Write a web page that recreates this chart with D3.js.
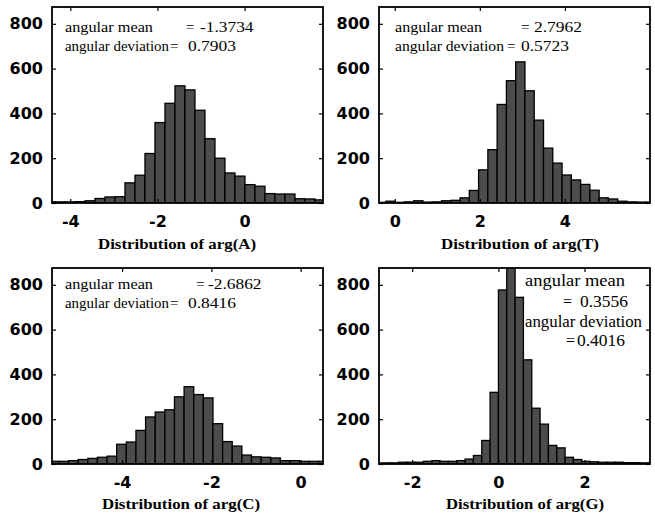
<!DOCTYPE html>
<html>
<head>
<meta charset="utf-8">
<script src="https://cdn.jsdelivr.net/npm/d3@7"></script>
<style>
  body { margin: 0; background: #fff; }
  svg { display: block; }
</style>
</head>
<body>
<svg id="chart" width="655" height="516"></svg>
<script>
// Histogram counts of the phase angle of each nucleotide signal
const nucleotides = ["A", "T", "C", "G"];

const countsA = [5, 5, 5, 6, 10, 20, 27, 28, 90, 124, 221, 359, 445, 523, 505, 414, 287, 200, 134, 120, 82, 75, 42, 40, 40, 19, 18, 14];
const binStartA = -4.581, binWidthA = 0.2295;

const countsT = [3, 8, 3, 5, 10, 4, 5, 10, 12, 23, 56, 148, 238, 440, 546, 630, 501, 370, 245, 178, 125, 103, 83, 57, 23, 18, 8, 5, 4, 4];
const binStartT = -0.427, binWidthT = 0.218;

const countsC = [12, 12, 15, 20, 25, 30, 35, 88, 98, 150, 210, 232, 242, 300, 345, 310, 295, 180, 100, 80, 40, 32, 30, 27, 15, 15, 12, 12, 12, 10];
const binStartC = -5.631, binWidthC = 0.2157;

const countsG = [4, 5, 5, 8, 8, 8, 12, 15, 12, 12, 15, 22, 38, 105, 320, 777, 890, 744, 465, 249, 178, 83, 72, 30, 20, 12, 10, 8, 8, 8, 6, 6, 5, 5];
const binStartG = -2.899, binWidthG = 0.1934;

// Axis limits and ticks
const xLimA = [-4.42, 1.80], xTicksA = [-4, -2, 0];
const xLimT = [-0.37, 6.00], xTicksT = [0, 2, 4];
const xLimC = [-5.57, 0.50], xTicksC = [-4, -2, 0];
const xLimG = [-2.77, 3.52], xTicksG = [-2, 0, 2];
const yMax = 875;
const yTicks = [0, 200, 400, 600, 800];

// Circular statistics printed in each panel
const meanA = -1.3734, devA = 0.7903;
const meanT = 2.7962, devT = 0.5723;
const meanC = -2.6862, devC = 0.8416;
const meanG = 0.3556, devG = 0.4016;

const fmt = v => v.toFixed(4);
// width used for a printed number: wide digits, narrow point and sign
const numWidth = s => Array.from(s).reduce((w, ch) => w + (ch === "." ? 4 : ch === "-" ? 5.5 : 8.8), 0);

// Panel layout
const plotW = 271, plotH = 196;
const panels = [
  { key: "A", left: 52, top: 7, counts: countsA, start: binStartA, width: binWidthA, xLim: xLimA, xTicks: xTicksA,
    titleX: 177, titleY: 249, fs: 15,
    words: [ { t: "angular mean", x: 65, y: 32, w: 88 }, { t: "angular deviation", x: 65, y: 51, w: 104 } ],
    eqs: [ { x: 186, y: 32 }, { x: 170, y: 51 } ],
    nums: [ { v: meanA, x: 200, y: 32 }, { v: devA, x: 188, y: 51 } ] },
  { key: "T", left: 379, top: 7, counts: countsT, start: binStartT, width: binWidthT, xLim: xLimT, xTicks: xTicksT,
    titleX: 520, titleY: 249, fs: 15,
    words: [ { t: "angular mean", x: 395, y: 32, w: 87 }, { t: "angular deviation", x: 395, y: 51, w: 109 } ],
    eqs: [ { x: 521, y: 32 }, { x: 507, y: 51 } ],
    nums: [ { v: meanT, x: 534, y: 32 }, { v: devT, x: 521, y: 51 } ] },
  { key: "C", left: 52, top: 268, counts: countsC, start: binStartC, width: binWidthC, xLim: xLimC, xTicks: xTicksC,
    titleX: 181, titleY: 509, fs: 15,
    words: [ { t: "angular mean", x: 65, y: 289, w: 88 }, { t: "angular deviation", x: 65, y: 308, w: 104 } ],
    eqs: [ { x: 196, y: 289 }, { x: 170, y: 308 } ],
    nums: [ { v: meanC, x: 208, y: 289 }, { v: devC, x: 188, y: 308 } ] },
  { key: "G", left: 379, top: 268, counts: countsG, start: binStartG, width: binWidthG, xLim: xLimG, xTicks: xTicksG,
    titleX: 525, titleY: 509, fs: 16,
    words: [ { t: "angular mean", x: 525, y: 286, w: 100 }, { t: "angular deviation", x: 525, y: 327, w: 117 } ],
    eqs: [ { x: 563, y: 307 }, { x: 566, y: 346 } ],
    nums: [ { v: meanG, x: 580, y: 307 }, { v: devG, x: 577, y: 346 } ] }
];

const svg = d3.select("#chart");
svg.append("rect").attr("width", 655).attr("height", 516).attr("fill", "#fff");

const tickFont = "'DejaVu Sans', sans-serif";
const serifFont = "'Liberation Serif', 'Times New Roman', serif";

panels.forEach((p, idx) => {
  const x = d3.scaleLinear().domain(p.xLim).range([p.left, p.left + plotW]);
  const y = d3.scaleLinear().domain([0, yMax]).range([p.top + plotH, p.top]);

  const clipId = "clip-" + p.key;
  svg.append("clipPath").attr("id", clipId)
    .append("rect").attr("x", p.left).attr("y", p.top).attr("width", plotW).attr("height", plotH);

  const bins = p.counts.map((c, i) => ({ x0: p.start + i * p.width, x1: p.start + (i + 1) * p.width, n: c }));

  svg.append("g").attr("clip-path", `url(#${clipId})`)
    .selectAll("rect").data(bins).join("rect")
    .attr("x", d => x(d.x0))
    .attr("width", d => x(d.x1) - x(d.x0))
    .attr("y", d => y(d.n))
    .attr("height", d => y(0) - y(d.n))
    .attr("fill", "#4c4c4c")
    .attr("stroke", "#000")
    .attr("stroke-width", 1.3);

  // Bottom axis with labels, inward ticks
  const gx = svg.append("g").attr("transform", `translate(0,${p.top + plotH})`)
    .call(d3.axisBottom(x).tickValues(p.xTicks).tickSizeInner(-4).tickSizeOuter(0).tickPadding(13)
      .tickFormat(d => d3.format("d")(d).replace("−", "-")));
  gx.select(".domain").remove();
  gx.selectAll("line").attr("stroke", "#000").attr("stroke-width", 1.2);
  gx.selectAll("text").attr("font-family", tickFont).attr("font-weight", "bold")
    .attr("font-size", 16).attr("fill", "#000");

  // Top axis, ticks only
  const gxt = svg.append("g").attr("transform", `translate(0,${p.top})`)
    .call(d3.axisTop(x).tickValues(p.xTicks).tickSizeInner(-4).tickSizeOuter(0).tickFormat(""));
  gxt.select(".domain").remove();
  gxt.selectAll("line").attr("stroke", "#000").attr("stroke-width", 1.2);

  // Left axis with labels
  const gy = svg.append("g").attr("transform", `translate(${p.left},0)`)
    .call(d3.axisLeft(y).tickValues(yTicks).tickSizeInner(-4).tickSizeOuter(0).tickPadding(9)
      .tickFormat(d3.format("d")));
  gy.select(".domain").remove();
  gy.selectAll("line").attr("stroke", "#000").attr("stroke-width", 1.2);
  gy.selectAll("text").attr("font-family", tickFont).attr("font-weight", "bold")
    .attr("font-size", 16).attr("fill", "#000");

  // Right axis, ticks only
  const gyr = svg.append("g").attr("transform", `translate(${p.left + plotW},0)`)
    .call(d3.axisRight(y).tickValues(yTicks).tickSizeInner(-4).tickSizeOuter(0).tickFormat(""));
  gyr.select(".domain").remove();
  gyr.selectAll("line").attr("stroke", "#000").attr("stroke-width", 1.2);

  // Box around the plot area
  svg.append("rect")
    .attr("x", p.left).attr("y", p.top).attr("width", plotW).attr("height", plotH)
    .attr("fill", "none").attr("stroke", "#000").attr("stroke-width", 1.8);

  // Statistics annotation: label words, equals signs, values
  const note = svg.append("g").attr("font-family", serifFont).attr("font-size", p.fs).attr("fill", "#000");
  note.selectAll("text.word").data(p.words).join("text").attr("class", "word")
    .attr("x", d => d.x).attr("y", d => d.y)
    .attr("textLength", d => d.w).attr("lengthAdjust", "spacingAndGlyphs")
    .text(d => d.t);
  note.selectAll("text.eq").data(p.eqs).join("text").attr("class", "eq")
    .attr("x", d => d.x).attr("y", d => d.y)
    .text("=");
  note.selectAll("text.num").data(p.nums).join("text").attr("class", "num")
    .attr("x", d => d.x).attr("y", d => d.y)
    .attr("textLength", d => numWidth(fmt(d.v))).attr("lengthAdjust", "spacingAndGlyphs")
    .text(d => fmt(d.v));

  // Axis title
  svg.append("text")
    .attr("x", p.titleX).attr("y", p.titleY)
    .attr("text-anchor", "middle")
    .attr("textLength", 158).attr("lengthAdjust", "spacingAndGlyphs")
    .attr("font-family", serifFont).attr("font-weight", "bold").attr("font-size", 15)
    .attr("fill", "#000")
    .text(`Distribution of arg(${nucleotides[idx]})`);
});
</script>
</body>
</html>
